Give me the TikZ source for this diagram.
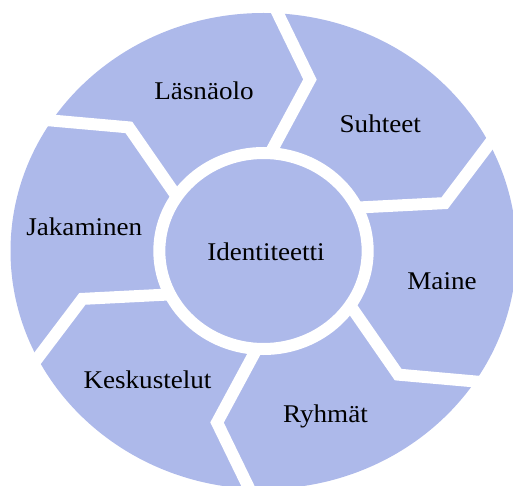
\documentclass[tikz,border=0pt]{standalone}
\usepackage{fontspec}
\setmainfont{Liberation Serif}
\definecolor{segblue}{HTML}{ADB9EA}
\tikzset{
  gap/.style={white, line width=12pt, line join=miter, miter limit=20},
  lbl/.style={anchor=base, inner sep=0pt, font=\fontsize{25.5}{28}\selectfont, xscale=1.063, text=black}
}
\begin{document}
\begin{tikzpicture}[x=1pt,y=-1pt]
\useasboundingbox (0,0) rectangle (513,486);
\clip (0,0) rectangle (513,486);
\begin{scope}[shift={(263.5,251)}, xscale=1.063, y=1pt]
  \fill[segblue] (0,0) circle[radius=238];
  \foreach \t in {87.5,27.5,-32.5,-92.5,-152.5,147.5}{
    \draw[gap] (\t-1.2:98) -- (\t-11.8:177) -- (\t+0.7:250);
  }
  \draw[white, line width=12pt] (0,0) circle[radius=98];
\end{scope}
\node[lbl] (lasnaolo) at (204,100) {Läsnäolo};
\node[lbl] (suhteet) at (380.3,132.3) {Suhteet};
\node[lbl] (jakaminen) at (84.3,235.7) {Jakaminen};
\node[lbl] (identiteetti) at (266,260) {Identiteetti};
\node[lbl] (maine) at (442,289) {Maine};
\node[lbl] (keskustelut) at (147.5,388.3) {Keskustelut};
\node[lbl] (ryhmat) at (325.5,422.7) {Ryhmät};
\end{tikzpicture}
\end{document}
